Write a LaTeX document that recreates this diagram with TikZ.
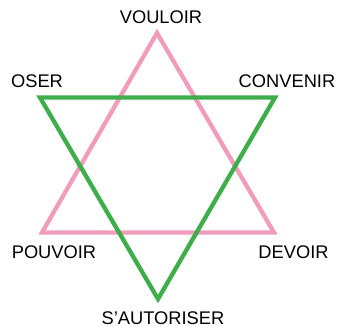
\documentclass[tikz,border=0pt]{standalone}
\usepackage{fontspec}
\setmainfont{Liberation Sans}
\usepackage{tikz}
\definecolor{starPink}{HTML}{F29CBB}
\definecolor{starGreen}{HTML}{3DAE49}

\begin{document}
\begin{tikzpicture}[x=1pt,y=-1pt,font=\fontsize{18.3}{20}\selectfont,
    side/.style={line width=4.3pt,line join=miter},
    word/.style={inner sep=0pt,text=black}]
  \useasboundingbox (0,0) rectangle (338,327);
  % pink triangle
  \coordinate (vTop)   at (157,33);
  \coordinate (vLeft)  at (42,232.5);
  \coordinate (vRight) at (274,232.5);
  % green triangle
  \coordinate (gLeft)   at (40,97.5);
  \coordinate (gRight)  at (275,97.5);
  \coordinate (gBottom) at (158,299);
  \draw[side,starPink] (vTop) -- (vRight) -- (vLeft) -- cycle;
  \draw[side,starGreen] (gLeft) -- (gRight) -- (gBottom) -- cycle;
  % labels
  \node[word] (vouloir)    at (161,17.5) {VOULOIR};
  \node[word] (oser)       at (37,81)    {OSER};
  \node[word] (convenir)   at (287,81)   {CONVENIR};
  \node[word] (pouvoir)    at (54,252)   {POUVOIR};
  \node[word] (devoir)     at (293.5,252) {DEVOIR};
  \node[word] (sautoriser) at (163,318)  {S\char39\relax AUTORISER};
\end{tikzpicture}
\end{document}
